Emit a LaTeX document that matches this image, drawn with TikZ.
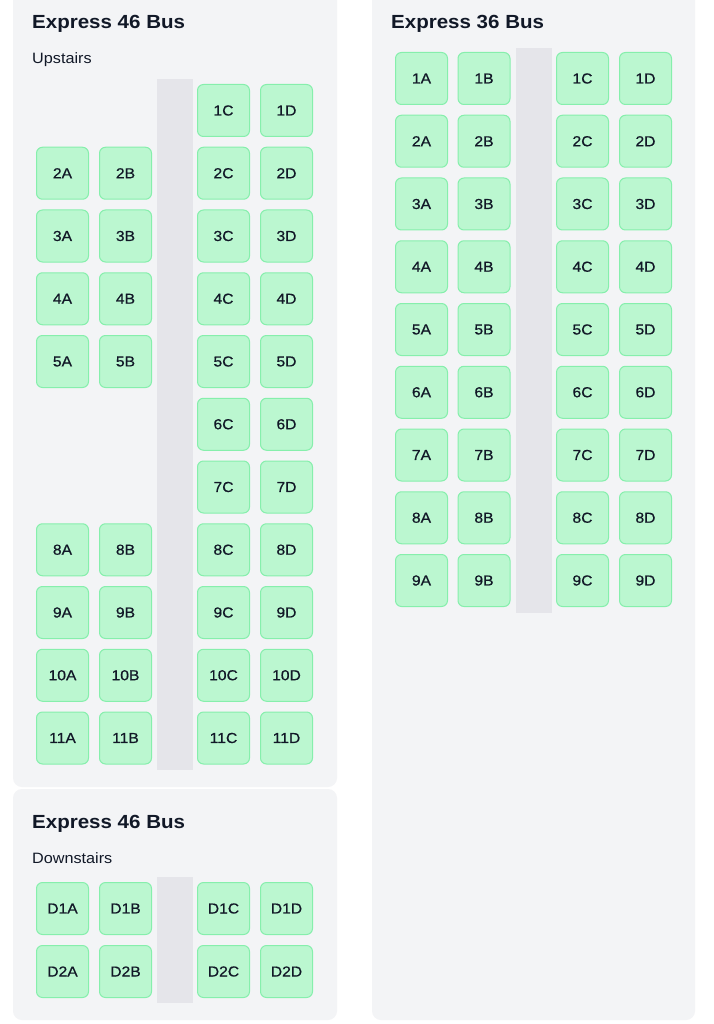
\documentclass[tikz,border=0pt]{standalone}
\usepackage{fontspec}
\setmainfont{Liberation Sans}[FakeStretch=1.08]
\newfontfamily\seatfont{Liberation Sans}[FakeStretch=1.08,FakeBold=0.6]
\definecolor{page}{HTML}{FFFFFF}
\definecolor{panelbg}{HTML}{F3F4F6}
\definecolor{seatfill}{HTML}{BBF7D0}
\definecolor{seatline}{HTML}{86EFAC}
\definecolor{aislebg}{HTML}{E5E5EA}
\definecolor{ink}{HTML}{111827}
\tikzset{
  panelbox/.style={fill=panelbg, draw=none, rounded corners=9pt},
  aislebox/.style={fill=aislebg, draw=none},
  seatbox/.style={draw=seatline, fill=seatfill, line width=1pt, rounded corners=6pt,
    minimum width=52pt, minimum height=52pt, inner sep=0pt, text=ink,
    font=\seatfont\fontsize{14.5}{14}\selectfont},
  titletext/.style={anchor=base west, inner sep=0pt, text=ink,
    font=\fontsize{19}{18}\selectfont\bfseries},
  subtext/.style={anchor=base west, inner sep=0pt, text=ink,
    font=\fontsize{15}{14}\selectfont},
}
\begin{document}
\begin{tikzpicture}[x=1pt,y=-1pt]
\useasboundingbox (0,0) rectangle (713,1024);
\clip (0,0) rectangle (713,1024);
\fill[page] (0,0) rectangle (713,1024);
% panels
\path[panelbox] (13,-12) rectangle (337,787);
\path[panelbox] (13,789) rectangle (337,1020);
\path[panelbox] (372,-12) rectangle (695,1020);
% aisles
\path[aislebox] (157,79) rectangle (193,770);
\path[aislebox] (516,48) rectangle (552,613);
\path[aislebox] (157,877) rectangle (193,1003);
% titles
\node[titletext] (tup) at (32,29) {Express 46 Bus};
\node[subtext] (sup) at (32,64) {Upstairs};
\node[titletext] (tr) at (391,29) {Express 36 Bus};
\node[titletext] (tdown) at (32,828) {Express 46 Bus};
\node[subtext] (sdown) at (32,863) {Downstairs};
% upstairs seats (Express 46)
\foreach \r in {1,...,11}{
  \pgfmathsetmacro{\yy}{110.5+(\r-1)*62.75}
  \node[seatbox] (u\r C) at (223.5,\yy) {\r C};
  \node[seatbox] (u\r D) at (286.5,\yy) {\r D};
}
\foreach \r in {2,3,4,5,8,9,10,11}{
  \pgfmathsetmacro{\yy}{110.5+(\r-1)*62.75}
  \node[seatbox] (u\r A) at (62.5,\yy) {\r A};
  \node[seatbox] (u\r B) at (125.5,\yy) {\r B};
}
% Express 36
\foreach \r in {1,...,9}{
  \pgfmathsetmacro{\yy}{78.5+(\r-1)*62.75}
  \node[seatbox] (r\r A) at (421.5,\yy) {\r A};
  \node[seatbox] (r\r B) at (484,\yy) {\r B};
  \node[seatbox] (r\r C) at (582.5,\yy) {\r C};
  \node[seatbox] (r\r D) at (645.5,\yy) {\r D};
}
% downstairs
\foreach \r/\yy in {1/908.5,2/971.5}{
  \node[seatbox] (dD\r A) at (62.5,\yy) {D\r A};
  \node[seatbox] (dD\r B) at (125.5,\yy) {D\r B};
  \node[seatbox] (dD\r C) at (223.5,\yy) {D\r C};
  \node[seatbox] (dD\r D) at (286.5,\yy) {D\r D};
}
\end{tikzpicture}
\end{document}
